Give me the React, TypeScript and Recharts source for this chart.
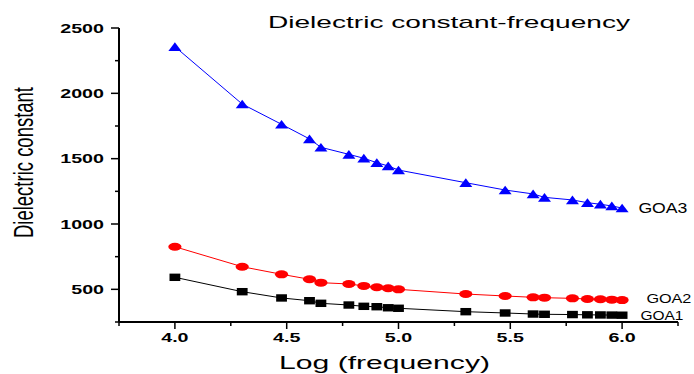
import React from 'react';
import { LineChart, Line, XAxis, YAxis } from 'recharts';

const logFrequency = [4.0, 4.301, 4.477, 4.602, 4.653, 4.778, 4.845, 4.903, 4.954, 5.0, 5.301, 5.477, 5.602, 5.653, 5.778, 5.845, 5.903, 5.954, 6.0];
const goa1 = [592, 482, 434, 413, 393, 380, 370, 367, 359, 355, 329, 319, 311, 309, 307, 305, 304, 303, 302];
const goa2 = [826, 673, 615, 577, 551, 541, 526, 516, 508, 500, 464, 449, 439, 436, 431, 426, 424, 421, 418];
const goa3 = [2357, 1918, 1763, 1651, 1587, 1533, 1503, 1469, 1444, 1413, 1316, 1260, 1230, 1204, 1184, 1163, 1151, 1138, 1122];
const seriesNames = ['GOA1', 'GOA2', 'GOA3'];

const xTicks = [3.75, 4, 4.25, 4.5, 4.75, 5, 5.25, 5.5, 5.75, 6, 6.25];
const xMajor = [4, 4.5, 5, 5.5, 6];
const xTickLabels = ['4.0', '4.5', '5.0', '5.5', '6.0'];
const yTicks = [250, 500, 750, 1000, 1250, 1500, 1750, 2000, 2250, 2500];
const yMajor = [500, 1000, 1500, 2000, 2500];
const yTickLabels = ['500', '1000', '1500', '2000', '2500'];

const data = logFrequency.map((f, i) => ({ f, goa1: goa1[i], goa2: goa2[i], goa3: goa3[i] }));

const FONT = 'Liberation Sans, Arial, Helvetica, sans-serif';
const SX = 1.48;

const XTick = (props: any) => {
  const { x, y, payload } = props;
  const idx = xMajor.indexOf(payload.value);
  const major = idx >= 0;
  return (
    <g>
      <line x1={x} x2={x} y1={y} y2={y + (major ? 7 : 4)} stroke="#000" strokeWidth={1.5} />
      {major && (
        <text
          x={0}
          y={0}
          textAnchor="middle"
          fontWeight="bold"
          fontSize={13.3}
          fontFamily={FONT}
          fill="#000"
          transform={`translate(${x},${y + 20.3}) scale(${SX},1)`}
        >
          {xTickLabels[idx]}
        </text>
      )}
    </g>
  );
};

const YTick = (props: any) => {
  const { x, y, payload } = props;
  const idx = yMajor.indexOf(payload.value);
  const major = idx >= 0;
  return (
    <g>
      <line x1={x - (major ? 8 : 4)} x2={x} y1={y} y2={y} stroke="#000" strokeWidth={1.5} />
      {major && (
        <text
          x={0}
          y={0}
          textAnchor="end"
          fontWeight="bold"
          fontSize={13.3}
          fontFamily={FONT}
          fill="#000"
          transform={`translate(${x - 15},${y + 4.8}) scale(${SX},1)`}
        >
          {yTickLabels[idx]}
        </text>
      )}
    </g>
  );
};

const SquareDot = (props: any) => {
  const { cx, cy, index } = props;
  return <rect key={`s${index}`} x={cx - 5.4} y={cy - 3.7} width={10.8} height={7.4} fill="#000" />;
};
const CircleDot = (props: any) => {
  const { cx, cy, index } = props;
  return <ellipse key={`c${index}`} cx={cx} cy={cy} rx={6.6} ry={4} fill="#ff0000" />;
};
const TriangleDot = (props: any) => {
  const { cx, cy, index } = props;
  return (
    <path
      key={`t${index}`}
      d={`M${cx},${cy - 4.4} L${cx + 6.5},${cy + 4.3} L${cx - 6.5},${cy + 4.3} Z`}
      fill="#0000ff"
    />
  );
};

const makeEndLabel = (name: string, dx: number, dy: number, size: number, len: number) => (props: any) => {
  const { x, y, index } = props;
  if (index !== logFrequency.length - 1) return <g key={`l${name}${index}`} />;
  return (
    <text
      key={`l${name}${index}`}
      x={x + dx}
      y={y + dy}
      fontSize={size}
      fontFamily={FONT}
      fill="#000"
      textLength={len}
      lengthAdjust="spacingAndGlyphs"
    >
      {name}
    </text>
  );
};

const YLabel = (props: any) => {
  const { viewBox } = props;
  const cx = viewBox.x + 33.3;
  const cy = viewBox.y + viewBox.height / 2 - 12.5;
  return (
    <text
      x={0}
      y={0}
      textAnchor="middle"
      fontSize={28.5}
      fontFamily={FONT}
      fill="#000"
      textLength={151}
      lengthAdjust="spacingAndGlyphs"
      transform={`translate(${cx},${cy}) rotate(-90)`}
    >
      Dielectric constant
    </text>
  );
};

const XLabel = (props: any) => {
  const { viewBox } = props;
  const cx = viewBox.x + viewBox.width / 2 - 14;
  const by = viewBox.y + 47.3;
  return (
    <text
      x={cx}
      y={by}
      textAnchor="middle"
      fontSize={17.6}
      fontFamily={FONT}
      fill="#000"
      textLength={211}
      lengthAdjust="spacingAndGlyphs"
    >
      Log (frequency)
    </text>
  );
};

export default function App() {
  return (
    <div style={{ position: 'absolute', left: 0, top: 0, width: 694, height: 374, background: '#fff' }}>
      <LineChart width={694} height={374} data={data} margin={{ top: 28, right: 16, left: 0, bottom: 0 }}>
        <XAxis
          dataKey="f"
          type="number"
          domain={[3.75, 6.25]}
          ticks={xTicks}
          interval={0}
          height={52}
          tickSize={0}
          tickMargin={0}
          tickLine={false}
          axisLine={{ stroke: '#000', strokeWidth: 2 }}
          tick={<XTick />}
          allowDataOverflow
          label={<XLabel />}
        />
        <YAxis
          type="number"
          domain={[250, 2500]}
          ticks={yTicks}
          interval={0}
          width={119}
          tickSize={0}
          tickMargin={0}
          tickLine={false}
          axisLine={{ stroke: '#000', strokeWidth: 2 }}
          tick={<YTick />}
          allowDataOverflow
          label={<YLabel />}
        />
        <Line
          dataKey="goa1"
          name={seriesNames[0]}
          stroke="#000000"
          strokeWidth={1}
          dot={SquareDot}
          activeDot={false}
          isAnimationActive={false}
          label={makeEndLabel(seriesNames[0], 18.3, 4.3, 12.5, 43)}
        />
        <Line
          dataKey="goa2"
          name={seriesNames[1]}
          stroke="#ff0000"
          strokeWidth={1}
          dot={CircleDot}
          activeDot={false}
          isAnimationActive={false}
          label={makeEndLabel(seriesNames[1], 24.3, 3.3, 12.5, 45)}
        />
        <Line
          dataKey="goa3"
          name={seriesNames[2]}
          stroke="#0000ff"
          strokeWidth={1}
          dot={TriangleDot}
          activeDot={false}
          isAnimationActive={false}
          label={makeEndLabel(seriesNames[2], 16.3, 4.7, 14, 49)}
        />
      </LineChart>
      <svg
        width={694}
        height={374}
        style={{ position: 'absolute', left: 0, top: 0, pointerEvents: 'none' }}
      >
        <text
          x={268}
          y={27.5}
          fontSize={17}
          fontFamily={FONT}
          fill="#000"
          textLength={362}
          lengthAdjust="spacingAndGlyphs"
        >
          Dielectric constant-frequency
        </text>
      </svg>
    </div>
  );
}
